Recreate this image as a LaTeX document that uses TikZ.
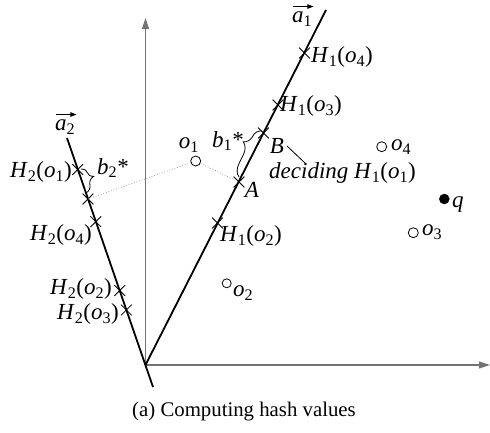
\documentclass[tikz,border=0pt]{standalone}
\usepackage{fontspec}
\setmainfont{Liberation Serif}
\usetikzlibrary{arrows.meta,decorations.pathreplacing,shapes.misc}
\newcommand\hval[4]{\textit{#1}\textsubscript{#2}(\textit{#3}\textsubscript{#4})}
\newcommand\objl[1]{\textit{o}\textsubscript{#1}}
\tikzset{
  lbl/.style={font=\fontsize{23}{27}\selectfont, inner sep=0pt},
  caplbl/.style={font=\fontsize{20.8}{24}\selectfont, inner sep=0pt},
  axisline/.style={draw=black!55, line width=1.1pt, -{Triangle[length=11pt,width=7pt]}},
  hashline/.style={draw=black, line width=1.8pt},
  vecarrow/.style={draw=black, line width=0.8pt, -{Triangle[length=6pt,width=4.5pt]}},
  xmark/.style={cross out, draw=black, line width=0.8pt, minimum size=10pt, inner sep=0pt},
  obj/.style={circle, draw=black, line width=0.8pt, fill=white, minimum size=10pt, inner sep=0pt},
  qobj/.style={circle, draw=black, fill=black, minimum size=10pt, inner sep=0pt},
  projline/.style={draw=black!45, dotted, line width=0.7pt},
  bracestyle/.style={draw=black, line width=0.8pt, decorate},
  leader/.style={draw=black, line width=0.8pt}
}
\begin{document}
\begin{tikzpicture}[x=1pt,y=-1pt]
\useasboundingbox (0,0) rectangle (490,432);
% axes
\coordinate (O) at (145.5,365);
\coordinate (ytop) at (145.5,18);
\coordinate (xend) at (490,365);
\draw[axisline] (O) -- (ytop);
\draw[axisline] (O) -- (xend);
% hash lines
\coordinate (a1top) at (326,10);
\coordinate (a2top) at (67,138);
\coordinate (a2bot) at (153,387);
\draw[hashline] (O) -- (a1top);
\draw[hashline] (a2bot) -- (a2top);
\node[lbl, anchor=west] (a1l) at (292,19) {\textit{a}\textsubscript{1}};
\node[lbl, anchor=west] (a2l) at (55,127) {\textit{a}\textsubscript{2}};
\draw[vecarrow] ([xshift=1pt,yshift=5pt]a1l.north west) -- ([xshift=1pt,yshift=5pt]a1l.north east);
\draw[vecarrow] ([xshift=1pt,yshift=5pt]a2l.north west) -- ([xshift=1pt,yshift=5pt]a2l.north east);
% crosses on a1
\node[xmark] (c14) at (304.5,53) {};
\node[xmark] (c13) at (278,105) {};
\node[xmark] (cB) at (263.5,133) {};
\node[xmark] (cA) at (239,182) {};
\node[xmark] (c12) at (217.5,223) {};
% crosses on a2
\node[xmark] (c21) at (77.7,169.5) {};
\node[xmark] (c2p) at (88,199) {};
\node[xmark] (c24) at (95.8,221.7) {};
\node[xmark] (c22) at (119.8,290.5) {};
\node[xmark] (c23) at (126.4,310) {};
% labels a1
\node[lbl, anchor=west] (l14) at (311,57) {\hval{H}{1}{o}{4}};
\node[lbl, anchor=west] (l13) at (280,106) {\hval{H}{1}{o}{3}};
\node[lbl] (lB) at (277,146) {\textit{B}};
\node[lbl] (lA) at (252,190) {\textit{A}};
\node[lbl, anchor=west] (l12) at (220,236) {\hval{H}{1}{o}{2}};
\node[lbl, anchor=west] (ldec) at (269,173) {\textit{deciding} \hval{H}{1}{o}{1}};
\coordinate (decend) at (305,163);
\draw[leader] (287,146) -- (decend);
% labels a2
\node[lbl, anchor=east] (l21) at (72,172) {\hval{H}{2}{o}{1}};
\node[lbl, anchor=east] (l24) at (92,235) {\hval{H}{2}{o}{4}};
\node[lbl, anchor=east] (l22) at (112,289) {\hval{H}{2}{o}{2}};
\node[lbl, anchor=east] (l23) at (119,314) {\hval{H}{2}{o}{3}};
% objects
\node[obj] (o1) at (195.7,161) {};
\node[obj, minimum size=9pt] (o2) at (226.7,283.3) {};
\node[obj] (o3) at (413.3,232.7) {};
\node[obj] (o4) at (381.7,146.7) {};
\node[qobj] (q) at (444.3,199) {};
\node[lbl] (o1l) at (189,145) {\objl{1}};
\node[lbl, anchor=west] (o2l) at (233,293) {\objl{2}};
\node[lbl, anchor=west] (o3l) at (422,232) {\objl{3}};
\node[lbl, anchor=west] (o4l) at (391,147) {\objl{4}};
\node[lbl, anchor=west] (ql) at (452,205) {\textit{q}};
% projections
\draw[projline] (o1) -- (cA.center);
\draw[projline] (o1) -- (c2p.center);
% braces
\draw[bracestyle, decoration={brace, amplitude=12pt, aspect=0.65}] (239,177) -- (262,131);
\draw[bracestyle, decoration={brace, amplitude=11pt, aspect=0.4}] (81,169) -- (86,193);
\node[lbl] (b1l) at (228,141) {\textit{b}\textsubscript{1}*};
\node[lbl] (b2l) at (113,168) {\textit{b}\textsubscript{2}*};
% caption
\node[caplbl] (cap) at (244,412) {(a) Computing hash values};
\end{tikzpicture}
\end{document}
